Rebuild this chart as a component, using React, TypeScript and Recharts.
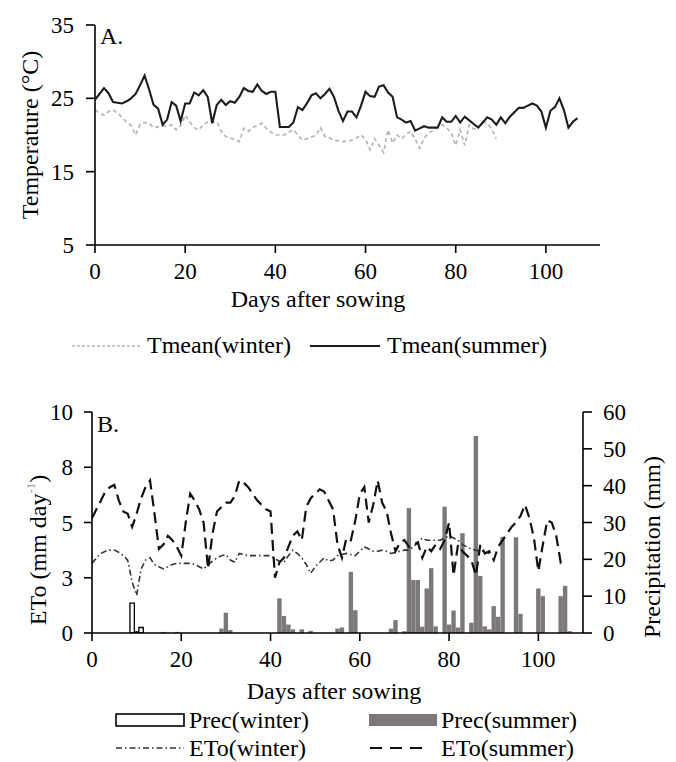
import React from 'react';
import { LineChart, ComposedChart, Line, Bar, XAxis, YAxis } from 'recharts';

const FONT = 'Liberation Serif, DejaVu Serif, serif';

// Days after sowing (category axis)
const days: number[] = Array.from({ length: 108 }, (_, i) => i);

// A. Mean temperature (°C)
const tSummer: number[] = [
  24.8, 25.6, 26.4, 25.7, 24.5, 24.4, 24.3, 24.6, 25.0, 25.6,
  26.8, 28.1, 26.2, 24.1, 23.6, 21.4, 22.1, 24.5, 24.0, 21.9,
  24.3, 24.3, 25.8, 25.4, 26.1, 25.2, 21.6, 24.1, 24.8, 24.1,
  24.6, 24.4, 25.2, 26.4, 26.0, 25.9, 26.9, 26.0, 25.6, 25.9,
  25.9, 21.1, 21.1, 21.1, 21.7, 23.8, 23.4, 24.3, 25.4, 25.7,
  25.0, 25.6, 26.3, 25.2, 23.3, 21.9, 23.2, 23.2, 22.4, 24.0,
  25.9, 25.3, 25.2, 26.6, 26.8, 25.8, 25.2, 22.4, 22.1, 21.7,
  21.9, 20.6, 20.9, 21.2, 21.0, 21.0, 21.0, 22.4, 21.8, 21.8,
  22.6, 21.7, 22.5, 22.0, 21.5, 21.0, 21.7, 22.4, 22.1, 21.4,
  22.4, 21.6, 22.5, 23.1, 23.7, 23.7, 24.0, 24.3, 24.0, 23.2,
  21.0, 23.3, 23.8, 25.0, 23.4, 21.0, 21.8, 22.3,
];
const tWinter: number[] = [
  23.4, 23.0, 22.7, 23.2, 23.4, 23.0, 22.4, 21.8, 21.3, 20.0,
  21.4, 21.7, 21.6, 21.0, 21.1, 21.2, 21.2, 21.4, 20.7, 21.3,
  22.7, 21.8, 21.0, 20.7, 21.4, 21.8, 21.8, 21.8, 20.5, 19.8,
  19.6, 19.4, 19.1, 20.9, 20.5, 21.0, 21.3, 21.6, 20.9, 20.4,
  20.0, 20.0, 20.0, 20.4, 20.7, 20.0, 19.3, 19.5, 19.7, 20.0,
  21.0, 19.8, 19.6, 19.3, 19.2, 19.1, 19.2, 19.3, 19.6, 20.0,
  19.4, 18.0, 19.5, 18.6, 17.6, 20.7, 18.9, 20.0, 19.5, 20.1,
  20.5, 19.4, 18.2, 19.6, 20.3, 20.6, 21.1, 21.4, 21.0, 20.3,
  18.6, 20.7, 18.6, 21.4, 20.8, 21.0, 21.8, 21.6, 20.8, 19.5,
];

// B. Reference evapotranspiration (mm day-1)
const etoSummer: number[] = [
  5.2, 5.6, 6.0, 6.4, 6.6, 6.7, 6.0, 5.5, 5.4, 4.8,
  5.4, 6.1, 6.6, 6.9, 5.4, 3.8, 4.0, 4.4, 4.2, 3.9,
  3.5, 5.0, 6.3, 6.0, 5.6, 5.0, 2.9, 4.5, 5.5, 5.7,
  5.9, 5.9, 6.2, 6.9, 6.8, 6.6, 6.3, 6.0, 5.8, 5.6,
  5.5, 2.5, 3.2, 3.4, 3.9, 4.4, 4.6, 4.2, 5.7, 6.1,
  6.3, 6.5, 6.4, 6.0, 5.6, 4.0, 3.4, 4.3, 4.2, 5.1,
  6.3, 6.6, 5.0, 5.8, 6.9, 5.9, 5.5, 4.5, 3.7, 4.1,
  4.2, 3.9, 4.0, 4.1, 3.4, 3.9, 3.7, 4.0, 3.8, 4.2,
  5.0, 2.6, 4.0, 3.7, 3.5, 3.3, 2.6, 4.0, 3.6, 3.7,
  3.3, 3.9, 4.2, 4.5, 4.8, 5.0, 5.3, 5.8, 5.2, 4.3,
  2.8, 4.0, 5.1, 5.0, 4.4, 3.2, 3.4,
];
const etoWinter: number[] = [
  3.15, 3.4, 3.6, 3.7, 3.75, 3.75, 3.65, 3.5, 3.3, 2.3,
  1.7, 2.9, 3.3, 3.4, 3.1, 3.0, 2.9, 3.0, 3.1, 3.15,
  3.15, 3.15, 3.15, 3.1, 3.0, 2.9, 3.1, 3.25, 3.4, 3.5,
  3.55, 3.3, 3.2, 3.6, 3.55, 3.5, 3.5, 3.5, 3.5, 3.5,
  3.5, 3.35, 3.25, 3.2, 3.5, 3.75, 3.6, 3.4, 3.1, 2.7,
  3.0, 3.2, 3.4, 3.25, 3.3, 3.5, 3.55, 3.6, 3.55, 3.5,
  3.7, 3.9, 3.8, 3.7, 3.7, 3.75, 3.7, 3.6, 3.65, 3.7,
  3.75, 3.75, 3.9, 4.1, 4.3, 4.2, 4.2, 4.2, 4.2, 4.3,
  4.4, 4.3, 4.2, 4.0, 3.9, 3.8, 3.75, 3.7, 3.7, 3.6,
];

// B. Precipitation (mm) on rainy days
const precWinterDays: number[] = [9, 10, 11];
const precWinterMm: number[] = [8.1, 0.3, 1.5];
const precSummerDays: number[] = [
  16, 19, 29, 30, 31, 42, 43, 44, 45, 47, 49, 55, 56, 58, 59, 67, 68, 70,
  71, 72, 73, 74, 75, 76, 77, 79, 80, 81, 82, 83, 85, 86, 87, 88, 89, 90,
  91, 92, 95, 96, 100, 101, 105, 106, 107,
];
const precSummerMm: number[] = [
  0.3, 0.3, 1.2, 5.5, 0.8, 9.4, 4.6, 2.3, 1.0, 1.0, 0.6, 1.2, 1.5, 16.6, 6.2, 1.2, 3.5, 0.5,
  33.9, 14.4, 14.4, 1.7, 12.1, 17.6, 1.8, 34.3, 2.3, 6.1, 1.5, 27.1, 2.8, 53.5, 15.5, 1.8, 1.0, 7.3,
  4.4, 26.1, 26.0, 5.2, 12.1, 10.0, 10.0, 12.8, 0.5,
];

const xTicks = [0, 20, 40, 60, 80, 100];
const tTicks = [5, 15, 25, 35];
const etoTicks = [0, 2.5, 5, 7.5, 10];
const precTicks = [0, 10, 20, 30, 40, 50, 60];

const tableA = days.map((d) => ({ day: d, winter: tWinter[d], summer: tSummer[d] }));
const tableB = days.map((d) => {
  const wi = precWinterDays.indexOf(d);
  const si = precSummerDays.indexOf(d);
  return {
    day: d,
    etoW: etoWinter[d],
    etoS: etoSummer[d],
    precW: wi >= 0 ? precWinterMm[wi] : null,
    precS: si >= 0 ? precSummerMm[si] : null,
  };
});

const tickStyle = { fontSize: 23, fill: '#000', fontFamily: FONT };
const axisLine = { stroke: '#000', strokeWidth: 1.6 };
const tickLine = { stroke: '#000', strokeWidth: 1.6 };
const T = 24;

export default function App() {
  return (
    <div style={{ position: 'fixed', left: 0, top: 0, width: 676, height: 762, background: '#fff', fontFamily: FONT }}>
      <div style={{ position: 'absolute', left: 0, top: 0 }}>
        <LineChart width={676} height={375} data={tableA} margin={{ top: 25, right: 76, bottom: 100, left: 35 }}>
          <XAxis dataKey="day" type="number" domain={[0, 112]} ticks={xTicks} allowDataOverflow
            tick={tickStyle} tickSize={8} tickMargin={10} axisLine={axisLine} tickLine={tickLine} height={30} />
          <YAxis type="number" domain={[5, 35]} ticks={tTicks} allowDataOverflow width={60}
            tick={tickStyle} tickSize={9} tickMargin={12} axisLine={axisLine} tickLine={tickLine} />
          <Line dataKey="winter" type="linear" stroke="#b5b5b5" strokeWidth={1.7} strokeDasharray="4 3"
            dot={false} isAnimationActive={false} />
          <Line dataKey="summer" type="linear" stroke="#1c1c1c" strokeWidth={2.1} dot={false} isAnimationActive={false} />
        </LineChart>
      </div>
      <div style={{ position: 'absolute', left: 0, top: 380 }}>
        <ComposedChart width={676} height={382} data={tableB} margin={{ top: 32, right: 33, bottom: 99, left: 35 }}>
          <XAxis dataKey="day" type="number" domain={[0, 110]} ticks={xTicks} allowDataOverflow
            tick={tickStyle} tickSize={8} tickMargin={10} axisLine={axisLine} tickLine={tickLine} height={30} />
          <YAxis yAxisId="eto" type="number" domain={[0, 10]} ticks={etoTicks} allowDataOverflow width={57}
            tickFormatter={(v: number) => String(Math.round(v))}
            tick={tickStyle} tickSize={8} tickMargin={11} axisLine={axisLine} tickLine={tickLine} />
          <YAxis yAxisId="prec" orientation="right" type="number" domain={[0, 60]} ticks={precTicks} allowDataOverflow width={60}
            tick={tickStyle} tickSize={9} tickMargin={11} axisLine={axisLine} tickLine={tickLine} />
          <Bar yAxisId="prec" dataKey="precW" stackId="p" fill="#ffffff" stroke="#000" strokeWidth={1.3}
            barSize={4.4} isAnimationActive={false} />
          <Bar yAxisId="prec" dataKey="precS" stackId="p" fill="#7d7878" barSize={4.4} isAnimationActive={false} />
          <Line yAxisId="eto" dataKey="etoW" type="linear" stroke="#333" strokeWidth={1.6}
            strokeDasharray="6 3 1.5 3" dot={false} isAnimationActive={false} />
          <Line yAxisId="eto" dataKey="etoS" type="linear" stroke="#111" strokeWidth={2.2}
            strokeDasharray="11 6" dot={false} isAnimationActive={false} />
        </ComposedChart>
      </div>
      <svg width={676} height={762} style={{ position: 'absolute', left: 0, top: 0, pointerEvents: 'none', fontFamily: FONT }}
        fill="#000">
        {/* Panel A texts */}
        <text x={100} y={44} fontSize={T}>A.</text>
        <text transform="translate(30,135) rotate(-90)" textAnchor="middle" dominantBaseline="central" fontSize={T}>
          Temperature (°C)
        </text>
        <text x={318} y={307} textAnchor="middle" fontSize={T}>Days after sowing</text>
        <line x1={72} y1={346} x2={140} y2={346} stroke="#b5b5b5" strokeWidth={1.5} strokeDasharray="3 2" />
        <text x={147} y={353} fontSize={T}>Tmean(winter)</text>
        <line x1={310} y1={346} x2={380} y2={346} stroke="#1c1c1c" strokeWidth={2.2} />
        <text x={387} y={353} fontSize={T}>Tmean(summer)</text>

        {/* Panel B texts */}
        <text x={97} y={432} fontSize={T}>B.</text>
        <text transform="translate(38,550) rotate(-90)" textAnchor="middle" dominantBaseline="central" fontSize={T}>
          ETo (mm day<tspan dy={-8} fontSize={13} fill="#999">-1</tspan><tspan dy={8}>)</tspan>
        </text>
        <text transform="translate(652,547) rotate(-90)" textAnchor="middle" dominantBaseline="central" fontSize={T}>
          Precipitation (mm)
        </text>
        <text x={334} y={699} textAnchor="middle" fontSize={T}>Days after sowing</text>
        <rect x={116} y={714} width={68} height={12} fill="#fff" stroke="#000" strokeWidth={1.6} />
        <text x={189} y={728} fontSize={T}>Prec(winter)</text>
        <rect x={369} y={714} width={68} height={12} fill="#7d7878" />
        <text x={441} y={728} fontSize={T}>Prec(summer)</text>
        <line x1={116} y1={748} x2={184} y2={748} stroke="#333" strokeWidth={1.6} strokeDasharray="6 3 1.5 3" />
        <text x={189} y={756} fontSize={T}>ETo(winter)</text>
        <line x1={370} y1={748} x2={426} y2={748} stroke="#111" strokeWidth={2.2} strokeDasharray="12 8" />
        <text x={441} y={756} fontSize={T}>ETo(summer)</text>
      </svg>
    </div>
  );
}
